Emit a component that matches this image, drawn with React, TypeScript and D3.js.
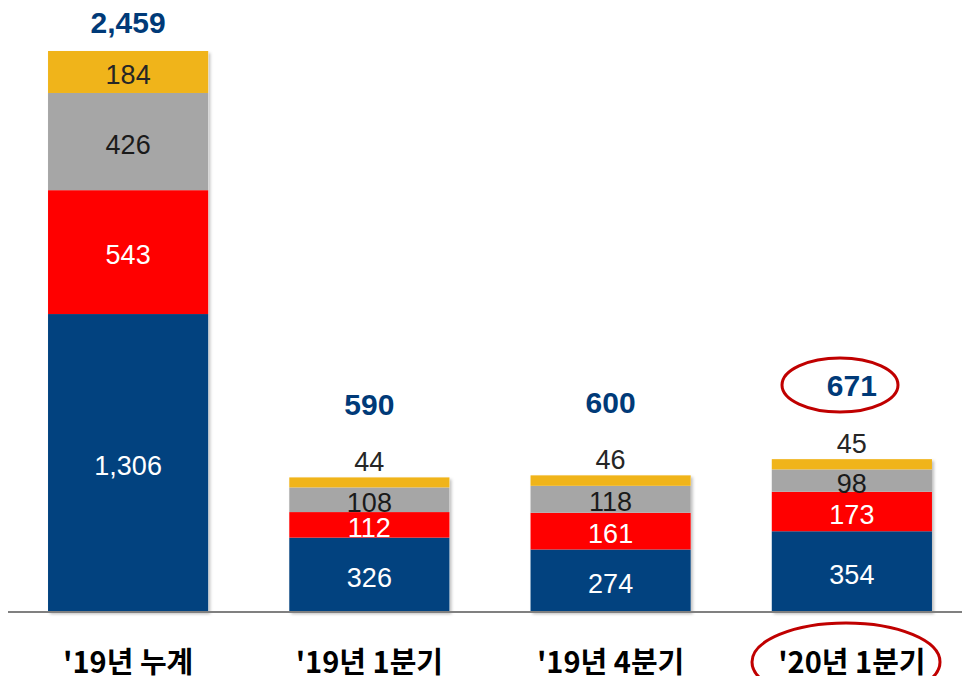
import React from 'react';
import * as d3 from 'd3';

const categories = ["'19년 누계", "'19년 1분기", "'19년 4분기", "'20년 1분기"];
const blueValues = [1306, 326, 274, 354];
const redValues = [543, 112, 161, 173];
const grayValues = [426, 108, 118, 98];
const yellowValues = [184, 44, 46, 45];
const totals = [2459, 590, 600, 671];

const seriesKeys = ['blue', 'red', 'gray', 'yellow'];
const seriesColors = ['#02427f', '#ff0000', '#a6a6a6', '#f0b41a'];
const labelColors = ['#ffffff', '#ffffff', '#1a1a1a', '#262626'];

const W = 962;
const H = 676;
const baseY = 612;

const App = () => {
  const rows = categories.map((c, i) => ({
    cat: c,
    blue: blueValues[i],
    red: redValues[i],
    gray: grayValues[i],
    yellow: yellowValues[i],
  }));

  const stack = d3.stack<any>().keys(seriesKeys);
  const layers = stack(rows);

  const x = d3.scaleBand().domain(categories).range([7.5, 972.5]).paddingInner(0.336).paddingOuter(0.168);
  const y = d3.scaleLinear().domain([0, 2459]).range([baseY, 51]);

  const fmt = d3.format(',');

  return (
    <svg width={W} height={H} style={{ position: 'absolute', left: 0, top: 0 }}>
      <defs>
        <filter id="sh" x="-5%" y="-5%" width="115%" height="115%">
          <feDropShadow dx="2" dy="2" stdDeviation="1.5" floodColor="#000" floodOpacity="0.25" />
        </filter>
      </defs>
      {categories.map((c, i) => {
        const top = y(totals[i]);
        return (
          <rect key={'s' + i} x={x(c)} y={top} width={x.bandwidth()} height={baseY - top}
            fill="#fff" filter="url(#sh)" />
        );
      })}
      {layers.map((layer, li) =>
        layer.map((d, i) => (
          <rect key={li + '-' + i} x={x(categories[i])} y={y(d[1])}
            width={x.bandwidth()} height={y(d[0]) - y(d[1])} fill={seriesColors[li]} />
        ))
      )}
      <line x1={8} x2={W} y1={baseY} y2={baseY} stroke="#808080" strokeWidth={2} />
      {layers.map((layer, li) =>
        layer.map((d, i) => {
          const h = y(d[0]) - y(d[1]);
          const cx = x(categories[i])! + x.bandwidth() / 2;
          let cy = (y(d[0]) + y(d[1])) / 2 + 3;
          let color = labelColors[li];
          if (h < 20) {
            cy = y(d[1]) - 15;
            color = '#262626';
          }
          return (
            <text key={'l' + li + '-' + i} x={cx} y={cy} textAnchor="middle" dominantBaseline="central"
              fontFamily="'Liberation Sans', Arial, sans-serif" fontSize={27} fill={color}>
              {fmt(d.data[seriesKeys[li]])}
            </text>
          );
        })
      )}
      {categories.map((c, i) => {
        const top = y(totals[i]);
        const topH = y(totals[i] - yellowValues[i]) - top;
        const ty = topH < 20 ? top - 73 : top - 29;
        return (
          <text key={'t' + i} x={x(c)! + x.bandwidth() / 2} y={ty} textAnchor="middle" dominantBaseline="central"
            fontFamily="'Liberation Sans', Arial, sans-serif" fontWeight="bold" fontSize={30} fill="#003a78">
            {fmt(totals[i])}
          </text>
        );
      })}
      {categories.map((c, i) => (
        <text key={'c' + i} x={x(c)! + x.bandwidth() / 2} y={660} textAnchor="middle" dominantBaseline="central"
          fontFamily="'Noto Sans CJK KR', sans-serif" fontWeight="bold" fontSize={29} fill="#000">
          {c}
        </text>
      ))}
      <ellipse cx={840} cy={385} rx={58} ry={27} fill="none" stroke="#c00000" strokeWidth={3} />
      <ellipse cx={846} cy={662} rx={94} ry={39} fill="none" stroke="#c00000" strokeWidth={3} />
    </svg>
  );
};

export default App;
